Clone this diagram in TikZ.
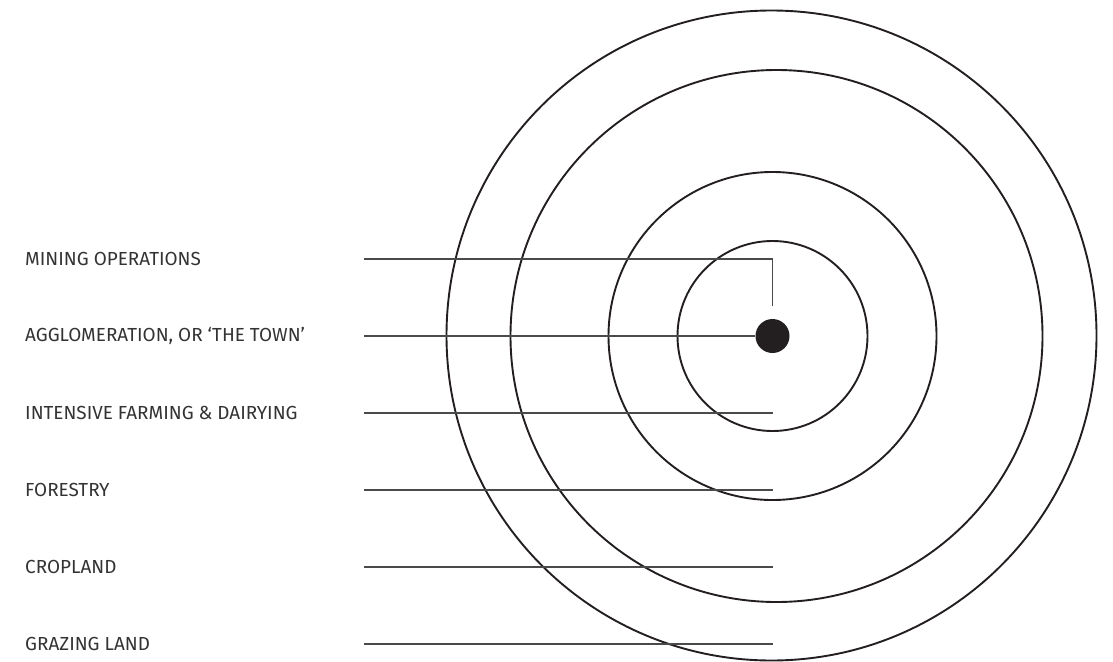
\documentclass[tikz,border=0pt]{standalone}
\usepackage{fontspec}
\setmainfont{Fira Sans}
\definecolor{ink}{HTML}{231F20}
\definecolor{txt}{HTML}{333333}
\definecolor{lead}{HTML}{4A4A4A}
\begin{document}
\begin{tikzpicture}[x=1pt,y=-1pt,
  lbl/.style={anchor=west,inner sep=0pt,text=txt,font=\fontsize{18.9}{20}\selectfont},
  ring/.style={draw=ink,line width=1.9pt},
  leader/.style={draw=lead,line width=1.3pt}]
\useasboundingbox (0,0) rectangle (1113,661);
\clip (0,0) rectangle (1113,661);
\coordinate (c) at (772.5,336);
\draw[ring] (c) circle[radius=95];
\draw[ring] (c) circle[radius=164];
\draw[ring] (776.5,336) circle[radius=266];
\draw[ring] (771.5,335.5) circle[radius=325];
\node[circle,fill=ink,minimum size=34pt,inner sep=0pt] (town) at (c) {};
\node[lbl] (l1) at (25,259) {MINING OPERATIONS};
\node[lbl] (l2) at (25,336) {AGGLOMERATION, OR ‘THE TOWN’};
\node[lbl] (l3) at (25,413) {INTENSIVE FARMING \& DAIRYING};
\node[lbl] (l4) at (25,490) {FORESTRY};
\node[lbl] (l5) at (25,567) {CROPLAND};
\node[lbl] (l6) at (25,644) {GRAZING LAND};
\foreach \i/\y in {1/259,2/336,3/413,4/490,5/567,6/644}
  \coordinate (s\i) at (364,\y);
\coordinate (m) at (772.5,306);
\foreach \i/\y in {3/413,4/490,5/567,6/644}
  \coordinate (e\i) at (772.5,\y);
\draw[leader] (s1) -| (m);
\draw[leader] (s2) -- (town.west);
\foreach \i in {3,4,5,6}
  \draw[leader] (s\i) -- (e\i);
\end{tikzpicture}
\end{document}
